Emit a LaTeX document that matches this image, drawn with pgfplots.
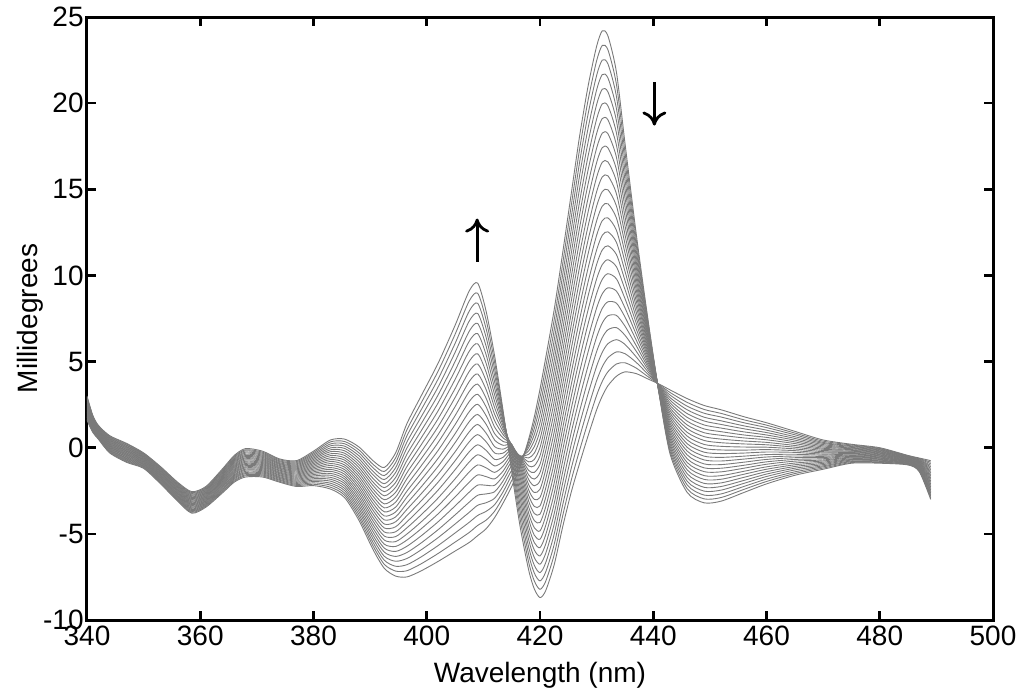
\documentclass[border=0pt]{standalone}
\usepackage{fontspec}
\setmainfont{Liberation Sans}
\usepackage{pgfplots}
\usepackage{pgfplotstable}
\pgfplotsset{compat=1.18}
\usetikzlibrary{arrows.meta}

\pgfplotstableread{
x c0 c1 c2 c3 c4 c5 c6 c7 c8 c9 c10 c11 c12 c13 c14 c15 c16 c17 c18 c19 c20 c21 c22 c23 c24 c25
340 3.00 2.94 2.89 2.83 2.78 2.72 2.66 2.61 2.55 2.50 2.44 2.38 2.33 2.27 2.22 2.16 2.10 2.05 1.99 1.94 1.88 1.82 1.77 1.71 1.66 1.60
341 1.90 1.86 1.82 1.78 1.74 1.70 1.66 1.62 1.58 1.54 1.50 1.46 1.42 1.38 1.34 1.30 1.26 1.22 1.18 1.14 1.10 1.06 1.02 0.98 0.94 0.90
342 1.30 1.27 1.24 1.20 1.17 1.14 1.11 1.08 1.04 1.01 0.98 0.95 0.92 0.88 0.85 0.82 0.79 0.76 0.72 0.69 0.66 0.63 0.60 0.56 0.53 0.50
344 0.70 0.66 0.62 0.58 0.54 0.50 0.46 0.42 0.38 0.34 0.30 0.26 0.22 0.18 0.14 0.10 0.06 0.02 -0.02 -0.06 -0.10 -0.14 -0.18 -0.22 -0.26 -0.30
347 0.25 0.21 0.16 0.12 0.07 0.03 -0.01 -0.06 -0.10 -0.15 -0.19 -0.23 -0.28 -0.32 -0.37 -0.41 -0.45 -0.50 -0.54 -0.59 -0.63 -0.67 -0.72 -0.76 -0.81 -0.85
350 -0.30 -0.34 -0.37 -0.41 -0.44 -0.48 -0.52 -0.55 -0.59 -0.62 -0.66 -0.70 -0.73 -0.77 -0.80 -0.84 -0.88 -0.91 -0.95 -0.98 -1.02 -1.06 -1.09 -1.13 -1.16 -1.20
353 -1.10 -1.14 -1.18 -1.22 -1.26 -1.30 -1.34 -1.38 -1.42 -1.46 -1.50 -1.54 -1.58 -1.62 -1.66 -1.70 -1.74 -1.78 -1.82 -1.86 -1.90 -1.94 -1.98 -2.02 -2.06 -2.10
356 -2.00 -2.04 -2.09 -2.13 -2.18 -2.22 -2.26 -2.31 -2.35 -2.40 -2.44 -2.48 -2.53 -2.57 -2.62 -2.66 -2.70 -2.75 -2.79 -2.84 -2.88 -2.92 -2.97 -3.01 -3.06 -3.10
358.5 -2.55 -2.60 -2.65 -2.70 -2.75 -2.80 -2.85 -2.90 -2.95 -3.00 -3.05 -3.10 -3.15 -3.20 -3.25 -3.30 -3.35 -3.40 -3.45 -3.50 -3.55 -3.60 -3.65 -3.70 -3.75 -3.80
361 -2.25 -2.30 -2.35 -2.39 -2.44 -2.49 -2.54 -2.59 -2.63 -2.68 -2.73 -2.78 -2.83 -2.87 -2.92 -2.97 -3.02 -3.07 -3.11 -3.16 -3.21 -3.26 -3.31 -3.35 -3.40 -3.45
364 -1.20 -1.26 -1.31 -1.37 -1.42 -1.48 -1.54 -1.59 -1.65 -1.70 -1.76 -1.82 -1.87 -1.93 -1.98 -2.04 -2.10 -2.15 -2.21 -2.26 -2.32 -2.38 -2.43 -2.49 -2.54 -2.60
366 -0.45 -0.51 -0.57 -0.64 -0.70 -0.76 -0.82 -0.88 -0.95 -1.01 -1.07 -1.13 -1.19 -1.26 -1.32 -1.38 -1.44 -1.50 -1.57 -1.63 -1.69 -1.75 -1.81 -1.88 -1.94 -2.00
368 -0.05 -0.12 -0.18 -0.25 -0.31 -0.38 -0.45 -0.51 -0.58 -0.64 -0.71 -0.78 -0.84 -0.91 -0.97 -1.04 -1.11 -1.17 -1.24 -1.30 -1.37 -1.44 -1.50 -1.57 -1.63 -1.70
371 -0.20 -0.26 -0.32 -0.38 -0.44 -0.50 -0.56 -0.62 -0.68 -0.74 -0.80 -0.86 -0.92 -0.98 -1.04 -1.10 -1.16 -1.22 -1.28 -1.34 -1.40 -1.46 -1.52 -1.58 -1.64 -1.70
374 -0.65 -0.70 -0.76 -0.81 -0.87 -0.92 -0.97 -1.03 -1.08 -1.14 -1.19 -1.24 -1.30 -1.35 -1.41 -1.46 -1.51 -1.57 -1.62 -1.68 -1.73 -1.78 -1.84 -1.89 -1.95 -2.00
377 -0.75 -0.81 -0.87 -0.93 -0.99 -1.05 -1.11 -1.17 -1.23 -1.29 -1.35 -1.41 -1.47 -1.53 -1.59 -1.65 -1.71 -1.77 -1.83 -1.89 -1.95 -2.01 -2.07 -2.13 -2.19 -2.25
380 -0.20 -0.28 -0.36 -0.44 -0.52 -0.60 -0.68 -0.76 -0.84 -0.92 -1.00 -1.08 -1.16 -1.24 -1.32 -1.40 -1.48 -1.56 -1.64 -1.72 -1.80 -1.88 -1.96 -2.04 -2.12 -2.20
383 0.45 0.34 0.22 0.11 -0.01 -0.12 -0.23 -0.35 -0.46 -0.58 -0.69 -0.80 -0.92 -1.03 -1.15 -1.26 -1.37 -1.49 -1.60 -1.72 -1.83 -1.94 -2.06 -2.17 -2.29 -2.40
385.5 0.50 0.36 0.23 0.09 -0.04 -0.18 -0.32 -0.45 -0.59 -0.72 -0.86 -1.00 -1.13 -1.27 -1.40 -1.54 -1.68 -1.81 -1.95 -2.08 -2.22 -2.36 -2.49 -2.63 -2.76 -2.90
388 0.05 -0.12 -0.29 -0.46 -0.63 -0.80 -0.97 -1.14 -1.31 -1.48 -1.65 -1.82 -1.99 -2.16 -2.33 -2.50 -2.67 -2.84 -3.01 -3.18 -3.35 -3.52 -3.69 -3.86 -4.03 -4.20
390.5 -0.75 -0.96 -1.16 -1.37 -1.57 -1.78 -1.99 -2.19 -2.40 -2.60 -2.81 -3.02 -3.22 -3.43 -3.63 -3.84 -4.05 -4.25 -4.46 -4.66 -4.87 -5.08 -5.28 -5.49 -5.69 -5.90
392.5 -1.15 -1.38 -1.62 -1.85 -2.09 -2.32 -2.55 -2.79 -3.02 -3.26 -3.49 -3.72 -3.96 -4.19 -4.43 -4.66 -4.89 -5.13 -5.36 -5.60 -5.83 -6.06 -6.30 -6.53 -6.77 -7.00
394.5 -0.30 -0.59 -0.87 -1.16 -1.44 -1.73 -2.02 -2.30 -2.59 -2.87 -3.16 -3.45 -3.73 -4.02 -4.30 -4.59 -4.88 -5.16 -5.45 -5.73 -6.02 -6.31 -6.59 -6.88 -7.16 -7.45
396.5 1.40 1.04 0.69 0.33 -0.02 -0.38 -0.74 -1.09 -1.45 -1.80 -2.16 -2.52 -2.87 -3.23 -3.58 -3.94 -4.30 -4.65 -5.01 -5.36 -5.72 -6.08 -6.43 -6.79 -7.14 -7.50
399 3.00 2.59 2.19 1.78 1.38 0.97 0.56 0.16 -0.25 -0.65 -1.06 -1.47 -1.87 -2.28 -2.68 -3.09 -3.50 -3.90 -4.31 -4.71 -5.12 -5.53 -5.93 -6.34 -6.74 -7.15
402 4.90 4.44 3.98 3.52 3.06 2.60 2.14 1.68 1.22 0.76 0.30 -0.16 -0.62 -1.08 -1.54 -2.00 -2.46 -2.92 -3.38 -3.84 -4.30 -4.76 -5.22 -5.68 -6.14 -6.60
405 7.10 6.58 6.05 5.53 5.00 4.48 3.96 3.43 2.91 2.38 1.86 1.34 0.81 0.29 -0.24 -0.76 -1.28 -1.81 -2.33 -2.86 -3.38 -3.90 -4.43 -4.95 -5.48 -6.00
407.5 9.10 8.52 7.93 7.35 6.76 6.18 5.60 5.01 4.43 3.84 3.26 2.68 2.09 1.51 0.92 0.34 -0.24 -0.83 -1.41 -2.00 -2.58 -3.16 -3.75 -4.33 -4.92 -5.50
409 9.55 8.96 8.38 7.79 7.21 6.62 6.03 5.45 4.86 4.28 3.69 3.10 2.52 1.93 1.35 0.76 0.17 -0.41 -1.00 -1.58 -2.17 -2.76 -3.34 -3.93 -4.51 -5.10
410.5 7.90 7.40 6.89 6.39 5.88 5.38 4.88 4.37 3.87 3.36 2.86 2.36 1.85 1.35 0.84 0.34 -0.16 -0.67 -1.17 -1.68 -2.18 -2.68 -3.19 -3.69 -4.20 -4.70
412 5.30 4.93 4.55 4.18 3.80 3.43 3.06 2.68 2.31 1.93 1.56 1.19 0.81 0.44 0.06 -0.31 -0.68 -1.06 -1.43 -1.81 -2.18 -2.55 -2.93 -3.30 -3.68 -4.05
413.5 2.10 2.01 1.91 1.80 1.68 1.55 1.41 1.27 1.10 0.93 0.75 0.56 0.36 0.14 -0.08 -0.31 -0.55 -0.80 -1.07 -1.35 -1.63 -1.92 -2.22 -2.55 -2.87 -3.20
415 -1.40 -1.12 -0.88 -0.66 -0.46 -0.29 -0.14 -0.03 0.07 0.13 0.18 0.20 0.19 0.16 0.09 0.01 -0.10 -0.24 -0.40 -0.59 -0.80 -1.03 -1.31 -1.59 -1.91 -2.25
416.5 -4.60 -4.15 -3.73 -3.34 -2.96 -2.62 -2.30 -2.01 -1.74 -1.50 -1.28 -1.09 -0.92 -0.78 -0.67 -0.58 -0.52 -0.48 -0.47 -0.48 -0.52 -0.58 -0.68 -0.79 -0.93 -1.10
418 -7.10 -6.65 -6.20 -5.77 -5.34 -4.94 -4.55 -4.16 -3.80 -3.44 -3.10 -2.77 -2.45 -2.15 -1.85 -1.58 -1.32 -1.06 -0.82 -0.59 -0.38 -0.18 0.01 0.18 0.35 0.50
419 -8.20 -7.74 -7.28 -6.83 -6.38 -5.94 -5.51 -5.08 -4.65 -4.23 -3.82 -3.41 -3.00 -2.60 -2.21 -1.82 -1.43 -1.05 -0.68 -0.31 0.06 0.42 0.77 1.12 1.46 1.80
420 -8.70 -8.22 -7.73 -7.25 -6.76 -6.28 -5.80 -5.31 -4.83 -4.34 -3.86 -3.38 -2.89 -2.41 -1.92 -1.44 -0.96 -0.47 0.01 0.50 0.98 1.46 1.95 2.43 2.92 3.40
421 -8.30 -7.76 -7.22 -6.68 -6.14 -5.60 -5.06 -4.52 -3.98 -3.44 -2.90 -2.36 -1.82 -1.28 -0.74 -0.20 0.34 0.88 1.42 1.96 2.50 3.04 3.58 4.12 4.66 5.20
422.5 -6.80 -6.21 -5.62 -5.02 -4.43 -3.84 -3.25 -2.66 -2.06 -1.47 -0.88 -0.29 0.30 0.90 1.49 2.08 2.67 3.26 3.86 4.45 5.04 5.63 6.22 6.82 7.41 8.00
424 -4.60 -3.96 -3.33 -2.69 -2.06 -1.42 -0.78 -0.15 0.49 1.12 1.76 2.40 3.03 3.67 4.30 4.94 5.58 6.21 6.85 7.48 8.12 8.76 9.39 10.03 10.66 11.30
425.5 -2.60 -1.91 -1.22 -0.52 0.17 0.86 1.55 2.24 2.94 3.63 4.32 5.01 5.70 6.40 7.09 7.78 8.47 9.16 9.86 10.55 11.24 11.93 12.62 13.32 14.01 14.70
427 -0.90 -0.14 0.62 1.38 2.14 2.90 3.66 4.42 5.18 5.94 6.70 7.46 8.22 8.98 9.74 10.50 11.26 12.02 12.78 13.54 14.30 15.06 15.82 16.58 17.34 18.10
428.5 0.70 1.51 2.32 3.14 3.95 4.76 5.57 6.38 7.20 8.01 8.82 9.63 10.44 11.26 12.07 12.88 13.69 14.50 15.32 16.13 16.94 17.75 18.56 19.38 20.19 21.00
430 2.20 3.04 3.89 4.73 5.58 6.42 7.26 8.11 8.95 9.80 10.64 11.48 12.33 13.17 14.02 14.86 15.70 16.55 17.39 18.24 19.08 19.92 20.77 21.61 22.46 23.30
431 3.00 3.85 4.70 5.54 6.39 7.24 8.09 8.94 9.78 10.63 11.48 12.33 13.18 14.02 14.87 15.72 16.57 17.42 18.26 19.11 19.96 20.81 21.66 22.50 23.35 24.20
432 3.60 4.41 5.22 6.04 6.85 7.66 8.47 9.28 10.10 10.91 11.72 12.53 13.34 14.16 14.97 15.78 16.59 17.40 18.22 19.03 19.84 20.65 21.46 22.28 23.09 23.90
433.5 4.15 4.86 5.56 6.27 6.97 7.68 8.39 9.09 9.80 10.50 11.21 11.92 12.62 13.33 14.03 14.74 15.45 16.15 16.86 17.56 18.27 18.98 19.68 20.39 21.09 21.80
435 4.40 4.93 5.46 6.00 6.53 7.06 7.59 8.12 8.66 9.19 9.72 10.25 10.78 11.32 11.85 12.38 12.91 13.44 13.98 14.51 15.04 15.57 16.10 16.64 17.17 17.70
437 4.30 4.62 4.95 5.27 5.60 5.92 6.24 6.57 6.89 7.22 7.54 7.86 8.19 8.51 8.84 9.16 9.48 9.81 10.13 10.46 10.78 11.10 11.43 11.75 12.08 12.40
439 4.00 4.14 4.29 4.43 4.58 4.72 4.86 5.01 5.15 5.30 5.44 5.58 5.73 5.87 6.02 6.16 6.30 6.45 6.59 6.74 6.88 7.02 7.17 7.31 7.46 7.60
441 3.70 3.68 3.66 3.64 3.62 3.60 3.58 3.56 3.54 3.52 3.50 3.48 3.46 3.44 3.42 3.40 3.38 3.36 3.34 3.32 3.30 3.28 3.26 3.24 3.22 3.20
443 3.35 3.20 3.05 2.90 2.75 2.60 2.45 2.30 2.15 2.00 1.85 1.70 1.55 1.40 1.25 1.10 0.95 0.80 0.65 0.50 0.35 0.20 0.05 -0.10 -0.25 -0.40
446 2.85 2.63 2.41 2.20 1.98 1.76 1.54 1.32 1.11 0.89 0.67 0.45 0.23 0.02 -0.20 -0.42 -0.64 -0.86 -1.07 -1.29 -1.51 -1.73 -1.95 -2.16 -2.38 -2.60
449 2.45 2.22 2.00 1.77 1.55 1.32 1.09 0.87 0.64 0.42 0.19 -0.04 -0.26 -0.49 -0.71 -0.94 -1.17 -1.39 -1.62 -1.84 -2.07 -2.30 -2.52 -2.75 -2.97 -3.20
452 2.20 1.99 1.78 1.56 1.35 1.14 0.93 0.72 0.50 0.29 0.08 -0.13 -0.34 -0.56 -0.77 -0.98 -1.19 -1.40 -1.62 -1.83 -2.04 -2.25 -2.46 -2.68 -2.89 -3.10
456 1.80 1.62 1.45 1.27 1.10 0.92 0.74 0.57 0.39 0.22 0.04 -0.14 -0.31 -0.49 -0.66 -0.84 -1.02 -1.19 -1.37 -1.54 -1.72 -1.90 -2.07 -2.25 -2.42 -2.60
460 1.45 1.31 1.17 1.02 0.88 0.74 0.60 0.46 0.31 0.17 0.03 -0.11 -0.25 -0.40 -0.54 -0.68 -0.82 -0.96 -1.11 -1.25 -1.39 -1.53 -1.67 -1.82 -1.96 -2.10
465 0.95 0.85 0.75 0.64 0.54 0.44 0.34 0.24 0.13 0.03 -0.07 -0.17 -0.27 -0.38 -0.48 -0.58 -0.68 -0.78 -0.89 -0.99 -1.09 -1.19 -1.29 -1.40 -1.50 -1.60
470 0.45 0.38 0.31 0.25 0.18 0.11 0.04 -0.03 -0.09 -0.16 -0.23 -0.30 -0.37 -0.43 -0.50 -0.57 -0.64 -0.71 -0.77 -0.84 -0.91 -0.98 -1.05 -1.11 -1.18 -1.25
475 0.20 0.16 0.11 0.07 0.02 -0.02 -0.06 -0.11 -0.15 -0.20 -0.24 -0.28 -0.33 -0.37 -0.42 -0.46 -0.50 -0.55 -0.59 -0.64 -0.68 -0.72 -0.77 -0.81 -0.86 -0.90
480 0.00 -0.04 -0.07 -0.11 -0.14 -0.18 -0.22 -0.25 -0.29 -0.32 -0.36 -0.40 -0.43 -0.47 -0.50 -0.54 -0.58 -0.61 -0.65 -0.68 -0.72 -0.76 -0.79 -0.83 -0.86 -0.90
485 -0.45 -0.47 -0.49 -0.52 -0.54 -0.56 -0.58 -0.60 -0.63 -0.65 -0.67 -0.69 -0.71 -0.74 -0.76 -0.78 -0.80 -0.82 -0.85 -0.87 -0.89 -0.91 -0.93 -0.96 -0.98 -1.00
487 -0.60 -0.63 -0.66 -0.70 -0.73 -0.76 -0.79 -0.82 -0.86 -0.89 -0.92 -0.95 -0.98 -1.02 -1.05 -1.08 -1.11 -1.14 -1.18 -1.21 -1.24 -1.27 -1.30 -1.34 -1.37 -1.40
489 -0.75 -0.84 -0.93 -1.02 -1.11 -1.20 -1.29 -1.38 -1.47 -1.56 -1.65 -1.74 -1.83 -1.92 -2.01 -2.10 -2.19 -2.28 -2.37 -2.46 -2.55 -2.64 -2.73 -2.82 -2.91 -3.00
}\spectra

\begin{document}
\begin{tikzpicture}
\useasboundingbox (-43.5pt,-38.5pt) rectangle (468.5pt,310pt);
\begin{axis}[
  at={(0,0)}, anchor=south west,
  scale only axis, width=453pt, height=301.5pt,
  xmin=340, xmax=500, ymin=-10, ymax=25,
  xtick={340,360,...,500}, ytick={-10,-5,...,25},
  tick align=inside, major tick length=4.5pt,
  axis line style={line width=1.5pt},
  every tick/.style={black, line width=1.3pt},
  /pgf/number format/assume math mode=true,
  tick label style={font=\fontsize{14}{16}\selectfont},
  yticklabel style={inner xsep=1.5pt},
  xticklabel style={inner ysep=3pt},
  xlabel={Wavelength (nm)}, ylabel={Millidegrees},
  every axis x label/.style={at={(axis description cs:0.5,-0.0697)}, anchor=north, inner sep=0pt, font=\fontsize{14}{16}\selectfont},
  every axis y label/.style={at={(axis description cs:-0.0629,0.5)}, rotate=90, anchor=center, inner sep=0pt, font=\fontsize{14}{16}\selectfont},
  clip=true,
]
\pgfplotsinvokeforeach{0,...,25}{
  \addplot[color=black!52, line width=0.45pt, smooth, tension=0.45, no marks] table[x=x, y=c#1]{\spectra};
}
\draw[line width=1.4pt, -{To[length=7pt,width=12pt]}] (axis cs:408.9,10.8) -- (axis cs:408.9,13.3);
\draw[line width=1.4pt, -{To[length=7pt,width=12pt]}] (axis cs:440.2,21.2) -- (axis cs:440.2,18.7);
\end{axis}
\end{tikzpicture}
\end{document}
